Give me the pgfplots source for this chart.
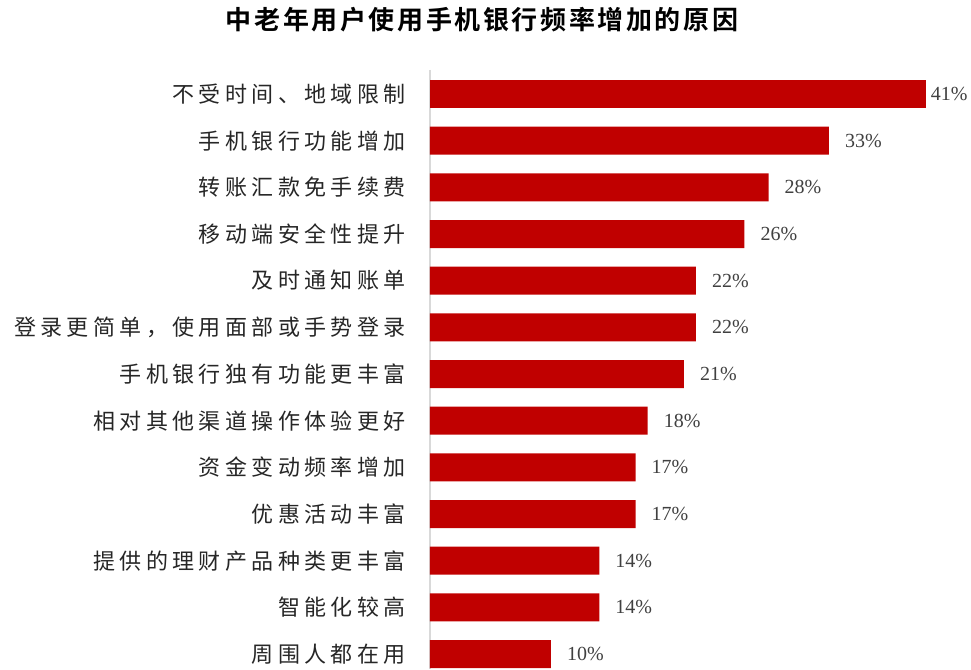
\documentclass[border=0pt]{standalone}
\usepackage{pgfplots}
\pgfplotsset{compat=1.18}
\usepackage{fontspec}
\setmainfont{Liberation Serif}
\newfontfamily\cjklab[LetterSpace=20]{Noto Sans CJK SC}
\newfontfamily\cjktitle[LetterSpace=10]{Noto Sans CJK SC Bold}
\definecolor{barred}{HTML}{C00000}
\definecolor{axisgray}{HTML}{D9D9D9}
\definecolor{labtext}{HTML}{262626}
\definecolor{valtext}{HTML}{404040}

\begin{document}
\begin{tikzpicture}
% page frame in px-like units (971 x 669)
\useasboundingbox (-430pt,0pt) rectangle (541pt,669pt);
\begin{axis}[
    at={(0pt,0pt)}, anchor=south west,
    scale only axis,
    width=532pt, height=599pt,
    xbar, bar width=28pt, bar shift=0pt,
    xmin=0, xmax=44,
    ymin=-0.514, ymax=12.32,
    y dir=reverse,
    axis x line=none,
    axis y line*=left,
    y axis line style={axisgray, line width=1.6pt, -},
    xtick=\empty,
    ytick={0,...,12},
    yticklabels={不受时间、地域限制,手机银行功能增加,转账汇款免手续费,移动端安全性提升,及时通知账单,登录更简单，使用面部或手势登录,手机银行独有功能更丰富,相对其他渠道操作体验更好,资金变动频率增加,优惠活动丰富,提供的理财产品种类更丰富,智能化较高,周围人都在用},
    major tick length=0pt,
    yticklabel style={font=\cjklab\fontsize{22}{24}\selectfont, text=labtext, inner sep=0pt, xshift=-24pt},
    point meta=x,
    /pgf/number format/assume math mode=true,
    nodes near coords={\pgfmathprintnumber{\pgfplotspointmeta}\%},
    nodes near coords style={font=\fontsize{20}{22}\selectfont, text=valtext, anchor=west, inner sep=0pt},
    clip=false,
]
\addplot[fill=barred, draw=none, nodes near coords style={xshift=16pt}] coordinates {
(33,1) (28,2) (26,3) (22,4) (22,5) (21,6) (18,7) (17,8) (17,9) (14,10) (14,11) (10,12)
};
\addplot[fill=barred, draw=none, nodes near coords style={xshift=5pt}] coordinates {
(41,0)
};
\end{axis}
\node[font=\cjktitle\fontsize{26}{28}\selectfont, text=black] at (52pt,649pt) {中老年用户使用手机银行频率增加的原因};
\end{tikzpicture}
\end{document}
